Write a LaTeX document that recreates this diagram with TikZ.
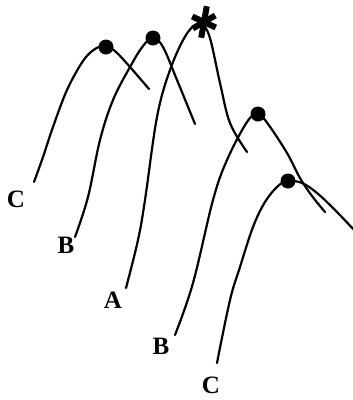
\documentclass[tikz,border=0pt]{standalone}
\usepackage{fontspec}
\setmainfont{Liberation Serif}
\usetikzlibrary{calc}
\begin{document}
\begin{tikzpicture}[x=1pt,y=-1pt,
  ridge/.style={line width=2.2pt, line cap=round},
  peakdot/.style={circle, fill=black, inner sep=0pt, minimum size=15pt},
  lab/.style={font=\fontsize{25}{25}\selectfont\bfseries, inner sep=0pt}]
\useasboundingbox (0,0) rectangle (353,400);
% C (left)
\draw[ridge] plot[smooth, tension=0.6] coordinates {(34,182) (43,157) (53,127) (67,90) (83,61) (95,49) (106,46) (116,52) (130,67) (149,89)};
% B (left)
\draw[ridge] plot[smooth, tension=0.6] coordinates {(75,237) (88,197) (100,140) (113,100) (130,67) (143,46) (153,38) (163,47) (177,80) (195,124)};
% A
\draw[ridge] plot[smooth, tension=0.6] coordinates {(126,288) (138,240) (145,200) (157,117) (170,70) (186,35) (199,24) (209,35) (220,83) (230,123) (247,152)};
% B (right)
\draw[ridge] plot[smooth, tension=0.6] coordinates {(175,335) (193,283) (213,200) (227,160) (247,122) (258,114) (268,124) (287,153) (300,178) (312,196) (325,212)};
% C (right)
\draw[ridge] plot[smooth, tension=0.6] coordinates {(217,363) (230,300) (240,267) (253,227) (265,202) (278,186) (288,181) (302,183) (317,193) (335,210) (355,231)};
% peaks
\node[peakdot] (p1) at (106,47) {};
\node[peakdot] (p2) at (153,38) {};
\node[peakdot] (p3) at (258,114) {};
\node[peakdot] (p4) at (288,181) {};
% star
\coordinate (s) at (204,22);
\draw[line width=6pt] ($(s)+(100:16)$) -- ($(s)+(280:16)$);
\draw[line width=6pt] ($(s)+(25:13)$) -- ($(s)+(205:13)$);
\draw[line width=6pt] ($(s)+(150:13)$) -- ($(s)+(330:13)$);
% labels
\node[lab] (lc1) at (16,199) {C};
\node[lab] (lb1) at (66,245) {B};
\node[lab] (la) at (113,300) {A};
\node[lab] (lb2) at (161,346) {B};
\node[lab] (lc2) at (211,385) {C};
\end{tikzpicture}
\end{document}
